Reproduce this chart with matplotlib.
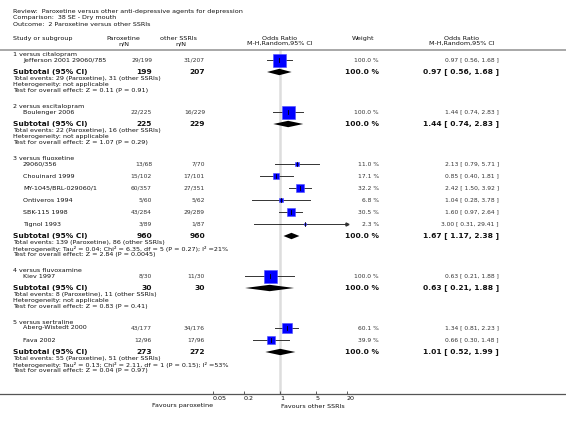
import numpy as np
import matplotlib
matplotlib.use("Agg")
import matplotlib.pyplot as plt

# ---- data ----
group_titles = ["1 versus citalopram", "2 versus escitalopram", "3 versus fluoxetine",
                "4 versus fluvoxamine", "5 versus sertraline"]
study_names = [["Jefferson 2001 29060/785"],
               ["Boulenger 2006"],
               ["29060/356", "Chouinard 1999", "MY-1045/BRL-029060/1", "Ontiveros 1994",
                "SBK-115 1998", "Tignol 1993"],
               ["Kiev 1997"],
               ["Aberg-Wistedt 2000", "Fava 2002"]]
par_events = [[29], [22], [13, 15, 60, 5, 43, 3], [8], [43, 12]]
par_total = [[199], [225], [68, 102, 357, 60, 284, 89], [30], [177, 96]]
oth_events = [[31], [16], [7, 17, 27, 5, 29, 1], [11], [34, 17]]
oth_total = [[207], [229], [70, 101, 351, 62, 289, 87], [30], [176, 96]]
odds = [[0.97], [1.44], [2.13, 0.85, 2.42, 1.04, 1.60, 3.00], [0.63], [1.34, 0.66]]
ci_lo = [[0.56], [0.74], [0.79, 0.40, 1.50, 0.28, 0.97, 0.31], [0.21], [0.81, 0.30]]
ci_hi = [[1.68], [2.83], [5.71, 1.81, 3.92, 3.78, 2.64, 29.41], [1.88], [2.23, 1.48]]
weights = [[100.0], [100.0], [11.0, 17.1, 32.2, 6.8, 30.5, 2.3], [100.0], [60.1, 39.9]]

sub_odds = [0.97, 1.44, 1.67, 0.63, 1.01]
sub_lo = [0.56, 0.74, 1.17, 0.21, 0.52]
sub_hi = [1.68, 2.83, 2.38, 1.88, 1.99]
sub_par_n = [199, 225, 960, 30, 273]
sub_oth_n = [207, 229, 960, 30, 272]
tot_par_events = [29, 22, 139, 8, 55]
tot_oth_events = [31, 16, 86, 11, 51]
heterogeneity = ["Heterogeneity: not applicable",
                 "Heterogeneity: not applicable",
                 "Heterogeneity: Tau\u00b2 = 0.04; Chi\u00b2 = 6.35, df = 5 (P = 0.27); I\u00b2 =21%",
                 "Heterogeneity: not applicable",
                 "Heterogeneity: Tau\u00b2 = 0.13; Chi\u00b2 = 2.11, df = 1 (P = 0.15); I\u00b2 =53%"]
overall = ["Z = 0.11 (P = 0.91)", "Z = 1.07 (P = 0.29)", "Z = 2.84 (P = 0.0045)",
           "Z = 0.83 (P = 0.41)", "Z = 0.04 (P = 0.97)"]
tick_vals = [0.05, 0.2, 1, 5, 20]
tick_labels = ["0.05", "0.2", "1", "5", "20"]

W, H = 566, 425
fs = 4.55
fs_small = 4.3
fsb = 5.4
tc = "#111111"

fig = plt.figure(figsize=(W / 100, H / 100), dpi=100)

# forest panel, y data == pixel rows
y_top, y_axis = 49, 394
x_lo_px, x_hi_px = 213, 347
fx = fig.add_axes([x_lo_px / W, (H - y_axis) / H, (x_hi_px - x_lo_px) / W, (y_axis - y_top) / H])
fx.set_xscale("log")
fx.set_xlim(0.05, 20)
fx.set_ylim(y_axis, y_top)
fx.patch.set_visible(False)
for s in fx.spines.values():
    s.set_visible(False)
fx.yaxis.set_visible(False)
fx.minorticks_off()
fx.set_xticks(tick_vals)
fx.set_xticklabels(tick_labels, fontsize=fs, color=tc)
for lab in fx.get_xticklabels():
    lab.set_horizontalalignment("left")
fx.tick_params(axis="x", direction="in", length=2, width=0.6, color="#444444", pad=1.5)
fx.axvline(1, color="#dddddd", lw=1.8, zorder=0)

# text overlay in pixel coordinates
ax = fig.add_axes([0, 0, 1, 1])
ax.set_xlim(0, W)
ax.set_ylim(H, 0)
ax.axis("off")
ax.patch.set_visible(False)

def txt(x, y, s, ha="left", bold=False, size=None, color=tc):
    ax.text(x, y, s, ha=ha, va="center", color=color,
            fontsize=size if size else (fsb if bold else fs),
            fontweight="bold" if bold else "normal")

txt(13, 11, "Review:  Paroxetine versus other anti-depressive agents for depression")
txt(13, 17.5, "Comparison:  38 SE - Dry mouth")
txt(13, 24, "Outcome:  2 Paroxetine versus other SSRIs")

txt(13, 38, "Study or subgroup")
txt(123, 38, "Paroxetine", ha="center")
txt(124, 43.5, "n/N", ha="center")
txt(179, 38, "other SSRIs", ha="center")
txt(181, 43.5, "n/N", ha="center")
txt(280, 38, "Odds Ratio", ha="center")
txt(280, 43.5, "M-H,Random,95% CI", ha="center")
txt(363, 38, "Weight", ha="center")
txt(462, 38, "Odds Ratio", ha="center")
txt(462, 43.5, "M-H,Random,95% CI", ha="center")
ax.plot([0, W], [49.5, 49.5], color="#999999", lw=1.2)
ax.plot([0, W], [y_axis, y_axis], color="#555555", lw=0.9)

x_par, x_oth, x_wt, x_ci = 152, 205, 379, 499
gray = "#333333"
y = 54
for g in range(len(group_titles)):
    txt(13, y, group_titles[g])
    y += 6
    for i, name in enumerate(study_names[g]):
        txt(23, y, name)
        txt(x_par, y, f"{par_events[g][i]}/{par_total[g][i]}", ha="right", size=fs_small, color=gray)
        txt(x_oth, y, f"{oth_events[g][i]}/{oth_total[g][i]}", ha="right", size=fs_small, color=gray)
        txt(x_wt, y, f"{weights[g][i]:.1f} %", ha="right", size=fs_small, color=gray)
        txt(x_ci, y, f"{odds[g][i]:.2f} [ {ci_lo[g][i]:.2f}, {ci_hi[g][i]:.2f} ]", ha="right",
            size=fs_small, color=gray)
        hi = min(ci_hi[g][i], 20)
        fx.plot([ci_lo[g][i], hi], [y, y], color="#333333", lw=0.7, zorder=2)
        if ci_hi[g][i] > 20:
            fx.plot(hi, y, marker=">", ms=2.2, color="#333333", clip_on=False, zorder=2)
        side_pt = 13 * np.sqrt(weights[g][i] / 100) * 0.72
        fx.scatter([odds[g][i]], [y], s=side_pt ** 2, marker="s", color="#0000ff",
                   edgecolor="#4d4dff", lw=0.4, zorder=3)
        fx.plot([odds[g][i], odds[g][i]], [y - 1.6, y + 1.6], color="black", lw=0.6, zorder=4)
        y += 12
    # subtotal
    txt(13, y, "Subtotal (95% CI)", bold=True)
    txt(x_par, y, str(sub_par_n[g]), ha="right", bold=True)
    txt(x_oth, y, str(sub_oth_n[g]), ha="right", bold=True)
    txt(x_wt, y, "100.0 %", ha="right", bold=True)
    txt(x_ci, y, f"{sub_odds[g]:.2f} [ {sub_lo[g]:.2f}, {sub_hi[g]:.2f} ]", ha="right", bold=True)
    fx.fill([sub_lo[g], sub_odds[g], sub_hi[g], sub_odds[g]], [y, y - 3.2, y, y + 3.2],
            color="black", lw=0, zorder=3)
    y += 6.5
    txt(13, y, f"Total events: {tot_par_events[g]} (Paroxetine), {tot_oth_events[g]} (other SSRIs)")
    y += 6
    txt(13, y, heterogeneity[g])
    y += 6
    txt(13, y, "Test for overall effect: " + overall[g])
    y += 15.5

txt(213, 406, "Favours paroxetine", ha="right")
txt(281, 406, "Favours other SSRIs")

fig.savefig("out.png", dpi=100)
